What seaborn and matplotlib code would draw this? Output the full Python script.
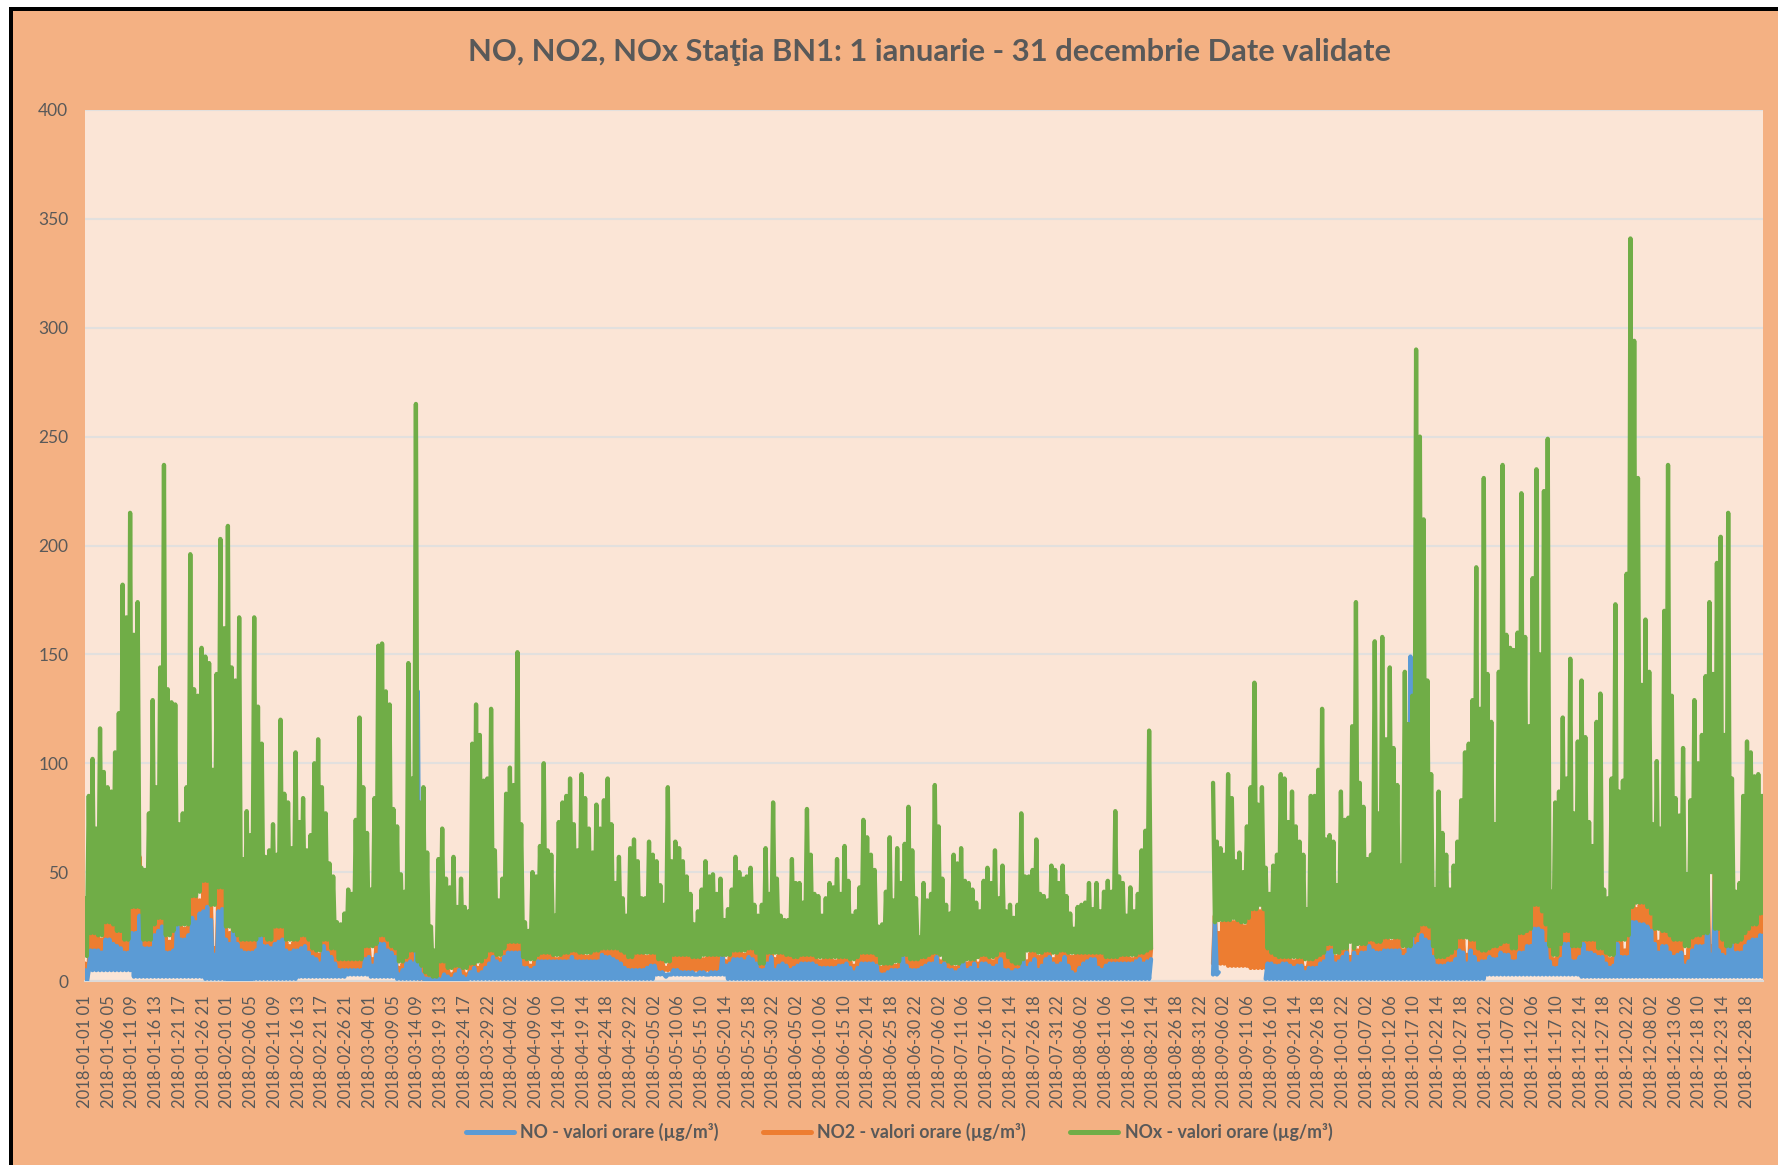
import matplotlib
matplotlib.use("Agg")
import matplotlib.pyplot as plt
from matplotlib.lines import Line2D
from matplotlib.patches import Rectangle
import numpy as np
import pandas as pd
import seaborn as sns

nan = float("nan")

# tick labels of the category axis, one every 124 hourly records
etichete = [
    "2018-01-01 01", "2018-01-06 05", "2018-01-11 09", "2018-01-16 13", "2018-01-21 17", "2018-01-26 21",
    "2018-02-01 01", "2018-02-06 05", "2018-02-11 09", "2018-02-16 13", "2018-02-21 17", "2018-02-26 21",
    "2018-03-04 01", "2018-03-09 05", "2018-03-14 09", "2018-03-19 13", "2018-03-24 17", "2018-03-29 22",
    "2018-04-04 02", "2018-04-09 06", "2018-04-14 10", "2018-04-19 14", "2018-04-24 18", "2018-04-29 22",
    "2018-05-05 02", "2018-05-10 06", "2018-05-15 10", "2018-05-20 14", "2018-05-25 18", "2018-05-30 22",
    "2018-06-05 02", "2018-06-10 06", "2018-06-15 10", "2018-06-20 14", "2018-06-25 18", "2018-06-30 22",
    "2018-07-06 02", "2018-07-11 06", "2018-07-16 10", "2018-07-21 14", "2018-07-26 18", "2018-07-31 22",
    "2018-08-06 02", "2018-08-11 06", "2018-08-16 10", "2018-08-21 14", "2018-08-26 18", "2018-08-31 22",
    "2018-09-06 02", "2018-09-11 06", "2018-09-16 10", "2018-09-21 14", "2018-09-26 18", "2018-10-01 22",
    "2018-10-07 02", "2018-10-12 06", "2018-10-17 10", "2018-10-22 14", "2018-10-27 18", "2018-11-01 22",
    "2018-11-07 02", "2018-11-12 06", "2018-11-17 10", "2018-11-22 14", "2018-11-27 18", "2018-12-02 22",
    "2018-12-08 02", "2018-12-13 06", "2018-12-18 10", "2018-12-23 14", "2018-12-28 18",
]

# upper envelope, one value per sample along the year
nox_varf = [
    38, 85, 102, 70, 116, 96, 89, 87, 105, 123, 182, 167, 215, 159, 174, 52, 51, 77, 129, 89, 144, 237, 134, 128, 127,
    72, 77, 89, 196, 134, 131, 153, 149, 146, 97, 141, 203, 162, 209, 144, 138, 167, 56, 78, 67, 167, 126, 109, 57, 60,
    72, 58, 120, 86, 82, 61, 105, 73, 84, 60, 67, 100, 111, 89, 77, 54, 48, 27, 26, 31, 42, 40, 74, 121,
    89, 68, 42, 84, 154, 155, 133, 127, 79, 71, 49, 41, 146, 93, 265, 82, 89, 59, 25, 14, 56, 70, 47, 43, 57,
    34, 47, 34, 32, 109, 127, 113, 92, 93, 125, 60, 37, 47, 86, 98, 90, 151, 72, 27, 23, 50, 48, 62, 100, 60,
    58, 30, 73, 82, 85, 93, 72, 60, 95, 84, 70, 59, 81, 70, 83, 93, 72, 45, 57, 38, 30, 61, 65, 55, 38,
    38, 64, 58, 55, 44, 35, 89, 55, 64, 61, 55, 48, 40, 26, 32, 42, 55, 48, 49, 40, 47, 28, 33, 42, 57,
    50, 47, 48, 52, 35, 30, 35, 61, 40, 82, 47, 30, 28, 28, 56, 45, 45, 36, 79, 58, 40, 39, 30, 38, 45,
    43, 56, 40, 62, 46, 30, 32, 43, 74, 66, 58, 51, 25, 26, 41, 66, 37, 61, 45, 63, 80, 60, 38, 20,
    45, 37, 40, 90, 71, 47, 35, 31, 58, 54, 61, 46, 45, 42, 36, 32, 46, 52, 45, 60, 38, 53, 32, 35, 29,
    35, 77, 48, 48, 51, 65, 40, 39, 37, 53, 51, 45, 53, 39, 31, 24, 34, 35, 36, 45, 33, 45, 32, 41, 46,
    41, 78, 48, 45, 30, 43, 32, 40, 60, 69, 115,
    nan, nan, nan, nan, nan, nan, nan, nan, nan, nan, nan, nan, nan, nan, nan, nan,
    91, 64, 61, 58, 95, 84, 55, 59, 50, 71, 89, 137, 81, 89, 52, 40, 53, 58, 95, 93, 73, 87, 71, 64, 58,
    33, 85, 85, 97, 125, 65, 67, 64, 44, 87, 74, 75, 117, 174, 91, 80, 56, 58, 156, 77, 158, 111, 144, 107, 90,
    53, 142, 118, 131, 290, 250, 212, 138, 95, 42, 87, 68, 58, 42, 53, 64, 83, 105, 109, 129, 190, 125, 231,
    141, 119, 72, 142, 237, 159, 153, 152, 160, 224, 158, 117, 185, 235, 150, 225, 249, 41, 82, 87, 121, 93, 148, 77, 110,
    138, 112, 73, 62, 119, 132, 42, 38, 93, 173, 87, 92, 187, 341, 294, 231, 136, 166, 142, 72, 101, 70, 170, 237, 131,
    84, 76, 107, 49, 83, 129, 100, 113, 140, 174, 141, 192, 204, 113, 215, 93, 41, 45, 85, 110, 105, 94, 95, 85,
]

no_varf = [
    0, 15, 15, 15, 14, 20, 20, 18, 17, 16, 14, 14, 23, 23, 31, 16, 16, 16, 22, 24, 26, 14, 14, 15, 30,
    20, 20, 22, 30, 28, 32, 33, 35, 29, 13, 33, 34, 20, 18, 31, 18, 15, 14, 14, 14, 15, 39, 17, 17, 16,
    18, 19, 20, 15, 14, 15, 15, 16, 17, 14, 12, 11, 9, 17, 14, 12, 9, 6, 6, 6, 6, 6, 6, 6,
    11, 12, 8, 13, 18, 18, 15, 14, 12, 4, 6, 9, 10, 9, 134, 4, 2, 1, 0, 0, 0, 4, 3, 2, 4,
    6, 3, 2, 5, 7, 4, 5, 7, 9, 12, 10, 9, 12, 14, 14, 14, 14, 7, 7, 6, 7, 10, 10, 10, 10,
    10, 10, 10, 10, 10, 12, 10, 10, 10, 10, 10, 10, 10, 13, 12, 12, 11, 10, 9, 7, 6, 6, 6, 6, 6,
    7, 8, 8, 5, 5, 3, 4, 6, 6, 5, 5, 5, 5, 4, 5, 5, 4, 5, 5, 5, 12, 8, 9, 11, 11,
    11, 10, 12, 11, 9, 6, 6, 9, 12, 6, 8, 9, 8, 6, 7, 8, 9, 9, 9, 9, 8, 7, 7, 7, 7,
    7, 8, 8, 9, 7, 5, 7, 9, 9, 9, 9, 8, 4, 4, 5, 6, 6, 6, 12, 8, 6, 6, 6, 7,
    8, 9, 9, 12, 8, 9, 6, 6, 5, 6, 12, 6, 7, 9, 6, 9, 9, 8, 7, 8, 11, 6, 6, 5, 6,
    6, 11, 7, 9, 11, 6, 8, 11, 12, 9, 8, 9, 12, 8, 5, 4, 7, 9, 10, 11, 11, 7, 6, 8, 9,
    9, 9, 9, 9, 9, 9, 10, 11, 9, 10, 11,
    nan, nan, nan, nan, nan, nan, nan, nan, nan, nan, nan, nan, nan, nan, nan, nan,
    28, 5, nan, nan, nan, nan, nan, nan, nan, nan, nan, nan, nan, nan,
    9, 9, 8, 8, 9, 9, 8, 7, 8, 8, 5, 7, 7, 7, 9, 10, 14, 15, 9, 10, 12, 14, 9, 14, 12,
    14, 14, 17, 15, 14, 14, 15, 15, 15, 15, 15, 12, 13, 150, 17, 18, 22, 20, 19, 12, 8, 8, 8, 9, 9,
    11, 15, 14, 9, 15, 12, 9, 10, 10,
    12, 11, 11, 14, 13, 13, 10, 10, 14, 14, 17, 17, 25, 25, 24, 18, 10, 7, 7, 11, 18, 18, 10, 10, 12,
    18, 14, 14, 13, 12, 12, 9, 7, 8, 18, 12, 12, 12, 28, 28, 27, 27, 26, 24, 18, 14, 17, 17, 14, 12,
    13, 14, 8, 10, 15, 17, 17, 17, 34, 13, 47, 15, 13, 12, 93, 14, 14, 14, 17, 19, 20, 20, 22, 22,
]

no2_varf = [
    0, 21, 21, 20, 19, 26, 26, 25, 22, 22, 18, 18, 33, 33, 57, 18, 18, 18, 25, 28, 32, 20, 18, 22, 43,
    25, 24, 25, 38, 40, 37, 45, 49, 34, 15, 44, 42, 24, 22, 35, 20, 18, 18, 18, 18, 18, 80, 20, 18, 18,
    24, 24, 25, 18, 16, 18, 18, 20, 20, 18, 14, 13, 12, 26, 18, 14, 14, 9, 9, 9, 9, 9, 9, 9,
    20, 15, 10, 16, 21, 20, 18, 15, 14, 6, 8, 10, 14, 13, 8, 6, 3, 2, 1, 1, 22, 8, 5, 3, 6,
    10, 5, 3, 7, 10, 6, 8, 10, 13, 18, 11, 10, 14, 18, 17, 17, 18, 10, 9, 7, 9, 11, 12, 12, 12,
    11, 10, 11, 12, 12, 14, 13, 12, 12, 11, 12, 13, 13, 14, 14, 14, 14, 14, 13, 12, 10, 10, 12, 12, 12,
    11, 13, 12, 9, 9, 6, 8, 11, 11, 11, 11, 11, 10, 10, 11, 10, 11, 11, 11, 11, 14, 9, 11, 13, 13,
    13, 12, 16, 14, 12, 7, 7, 12, 16, 10, 12, 12, 11, 11, 10, 10, 11, 11, 11, 11, 10, 9, 10, 10, 10,
    9, 10, 10, 11, 9, 7, 10, 12, 12, 12, 13, 11, 6, 7, 7, 9, 7, 8, 14, 11, 9, 9, 9, 10,
    10, 11, 12, 16, 9, 11, 8, 7, 6, 7, 13, 8, 9, 10, 8, 11, 11, 10, 9, 11, 14, 13, 10, 8, 7,
    7, 13, 9, 13, 15, 11, 12, 15, 13, 10, 12, 15, 13, 12, 11, 12, 12, 12, 12, 12, 12, 12, 12, 10, 10,
    10, 10, 11, 11, 11, 10, 11, 12, 12, 13, 15,
    nan, nan, nan, nan, nan, nan, nan, nan, nan, nan, nan, nan, nan, nan, nan, nan,
    30, 22, 27, 27, 28, 27, 29, 26, 25, 28, 32, 34, 32, 36,
    14, 12, 11, 10, 10, 10, 10, 9, 10, 10, 6, 9, 9, 10, 11, 12, 16, 20, 11, 12, 14, 17, 11, 17, 14,
    16, 16, 19, 18, 17, 17, 20, 19, 18, 20, 19, 14, 15, 15, 20, 22, 27, 25, 24, 15, 10, 10, 10, 11, 12,
    14, 21, 19, 12, 21, 18, 14, 13, 13,
    14, 15, 15, 16, 18, 17, 14, 14, 21, 21, 22, 23, 34, 34, 31, 25, 15, 10, 11, 16, 22, 22, 15, 15, 15,
    34, 18, 18, 18, 14, 14, 12, 10, 11, 25, 18, 14, 20, 87, 33, 35, 35, 33, 30, 23, 18, 34, 22, 20, 18,
    18, 18, 11, 15, 19, 20, 20, 21, 49, 16, 68, 23, 18, 15, 15, 17, 17, 18, 21, 23, 25, 25, 30, 30,
]

# lower edge of the NO and NO2 bands, one value per labelled interval
no_baza = [5, 5, 2, 2, 2, 1, 0, 1, 1, 2, 2, 3, 2, 1, 1, 0, 1, 1, 1, 1, 1, 1, 1, 1,
           3, 3, 3, 1, 1, 1, 1, 1, 1, 1, 1, 1, 1, 1, 1, 1, 1, 1, 1, 1, 1, 1, 1,
           3, 3, 1, 1, 1, 1, 1, 1, 1, 1, 1, 1, 3, 3, 3, 3, 2, 2, 2, 2, 2, 2, 2, 2]
no2_baza = [8, 8, 5, 5, 5, 4, 3, 4, 4, 5, 5, 6, 4, 2, 1, 1, 2, 3, 4, 4, 4, 4, 4, 4,
            5, 5, 5, 4, 4, 4, 4, 4, 4, 4, 4, 4, 4, 4, 4, 4, 4, 4, 4, 4, 4, 4, 4,
            8, 7, 6, 4, 4, 4, 4, 4, 4, 4, 4, 4, 5, 5, 5, 5, 5, 5, 5, 5, 5, 5, 5, 5]

ORE_AN = 8760
PAS = ORE_AN / (len(nox_varf) - 1)
PAS_ETICHETA = 124
PORTOCALIU = "#F4B183"
FUNDAL = "#FBE5D6"
GRI = "#595959"
CULORI = {"NO": "#5B9BD5", "NO2": "#ED7D31", "NOx": "#70AD47"}
NUME = {"NO": "NO - valori orare (µg/m³)", "NO2": "NO2 - valori orare (µg/m³)", "NOx": "NOx - valori orare (µg/m³)"}
LATIME = 3.1


def tabel(serie, varfuri, baze, decalaj_varf, decalaj_baza):
    """Interleaves highs and lows; a new unit starts after every missing stretch."""
    randuri = []
    tronson = 0
    for i, v in enumerate(varfuri):
        if np.isnan(v):
            tronson += 1
            continue
        randuri.append((serie, tronson, i * PAS + decalaj_baza, baze[i]))
        randuri.append((serie, tronson, i * PAS + decalaj_varf, v))
    df = pd.DataFrame(randuri, columns=["serie", "tronson", "ora", "valoare"])
    return df.sort_values(["tronson", "ora"])


no2_arr = np.array(no2_varf, dtype=float)
# NOx bottoms out on the NO2 band next to it, a lone NO2 spike does not lift it
nox_baza = []
for i in range(len(nox_varf)):
    vecini = no2_arr[max(i - 1, 0):i + 2]
    nox_baza.append(np.nanmedian(vecini) + 1 if not np.all(np.isnan(vecini)) else nan)

no_jos = [no_baza[int(i * PAS // PAS_ETICHETA)] for i in range(len(no_varf))]
no2_jos = [no2_baza[int(i * PAS // PAS_ETICHETA)] for i in range(len(no2_varf))]
# the tops were read at the outer edge of the stroke
no_sus = [max(v - 1, 0) for v in no_varf]

df_no = tabel("NO", no_sus, no_jos, PAS / 2, 0)
df_no2 = tabel("NO2", no2_varf, no2_jos, PAS / 2, 0)
df_nox = tabel("NOx", nox_varf, nox_baza, 0, PAS / 2)

sns.set_style("white")
fig = plt.figure(figsize=(17.78, 11.65), dpi=100, facecolor="white")
W, H = 1778, 1165
fig.add_artist(Rectangle((9 / W, 0), 1, 1 - 7 / H, transform=fig.transFigure, color="black", lw=0, zorder=-2))
fig.add_artist(Rectangle((13 / W, 0), 1, 1 - 11 / H, transform=fig.transFigure, color=PORTOCALIU, lw=0, zorder=-1))

ax = fig.add_axes([85 / W, 1 - 981 / H, (1763 - 85) / W, (981 - 110) / H])
ax.set_facecolor(FUNDAL)

# NO2 goes under NO, NOx over both
for serie, df in [("NO2", df_no2), ("NO", df_no), ("NOx", df_nox)]:
    sns.lineplot(data=df, x="ora", y="valoare", units="tronson", estimator=None, sort=False,
                 color=CULORI[serie], linewidth=LATIME, ax=ax, legend=False, zorder=3)

ax.set_xlim(0, ORE_AN + 5)
ax.set_ylim(0, 400)
ax.set_yticks(range(0, 401, 50))
ax.set_xticks(np.arange(len(etichete)) * PAS_ETICHETA)
ax.set_xticklabels(etichete, rotation=90, fontsize=12, color=GRI, family="Lato")
ax.set_yticklabels([str(v) for v in range(0, 401, 50)], fontsize=12.5, color=GRI, family="Lato")
ax.tick_params(axis="both", length=0)
ax.tick_params(axis="x", pad=10)
ax.tick_params(axis="y", pad=12)
ax.set_xlabel("")
ax.set_ylabel("")
ax.grid(axis="y", color="#E2E0DE", linewidth=1.5, zorder=1)
ax.set_axisbelow(True)
for s in ["top", "left", "right"]:
    ax.spines[s].set_visible(False)
ax.spines["bottom"].set_color("#DDDAD8")
ax.spines["bottom"].set_linewidth(1.5)

fig.text(929 / W, 1 - 52 / H, "NO, NO2, NOx Staţia BN1: 1 ianuarie - 31 decembrie Date validate",
         ha="center", va="center", fontsize=22.2, fontweight="bold", color=GRI, family="Lato")

handles = [Line2D([], [], color=CULORI[s], linewidth=3.6, label=NUME[s]) for s in ["NO", "NO2", "NOx"]]
leg = fig.legend(handles=handles, loc="center", bbox_to_anchor=(899 / W, 1 - 1132 / H), ncol=3, frameon=False,
                 handlelength=2.7, handletextpad=0.35, columnspacing=2.5,
                 prop={"family": "Lato", "weight": "bold", "size": 12.8})
for t in leg.get_texts():
    t.set_color(GRI)

fig.savefig("out.png", dpi=100, facecolor=fig.get_facecolor())
